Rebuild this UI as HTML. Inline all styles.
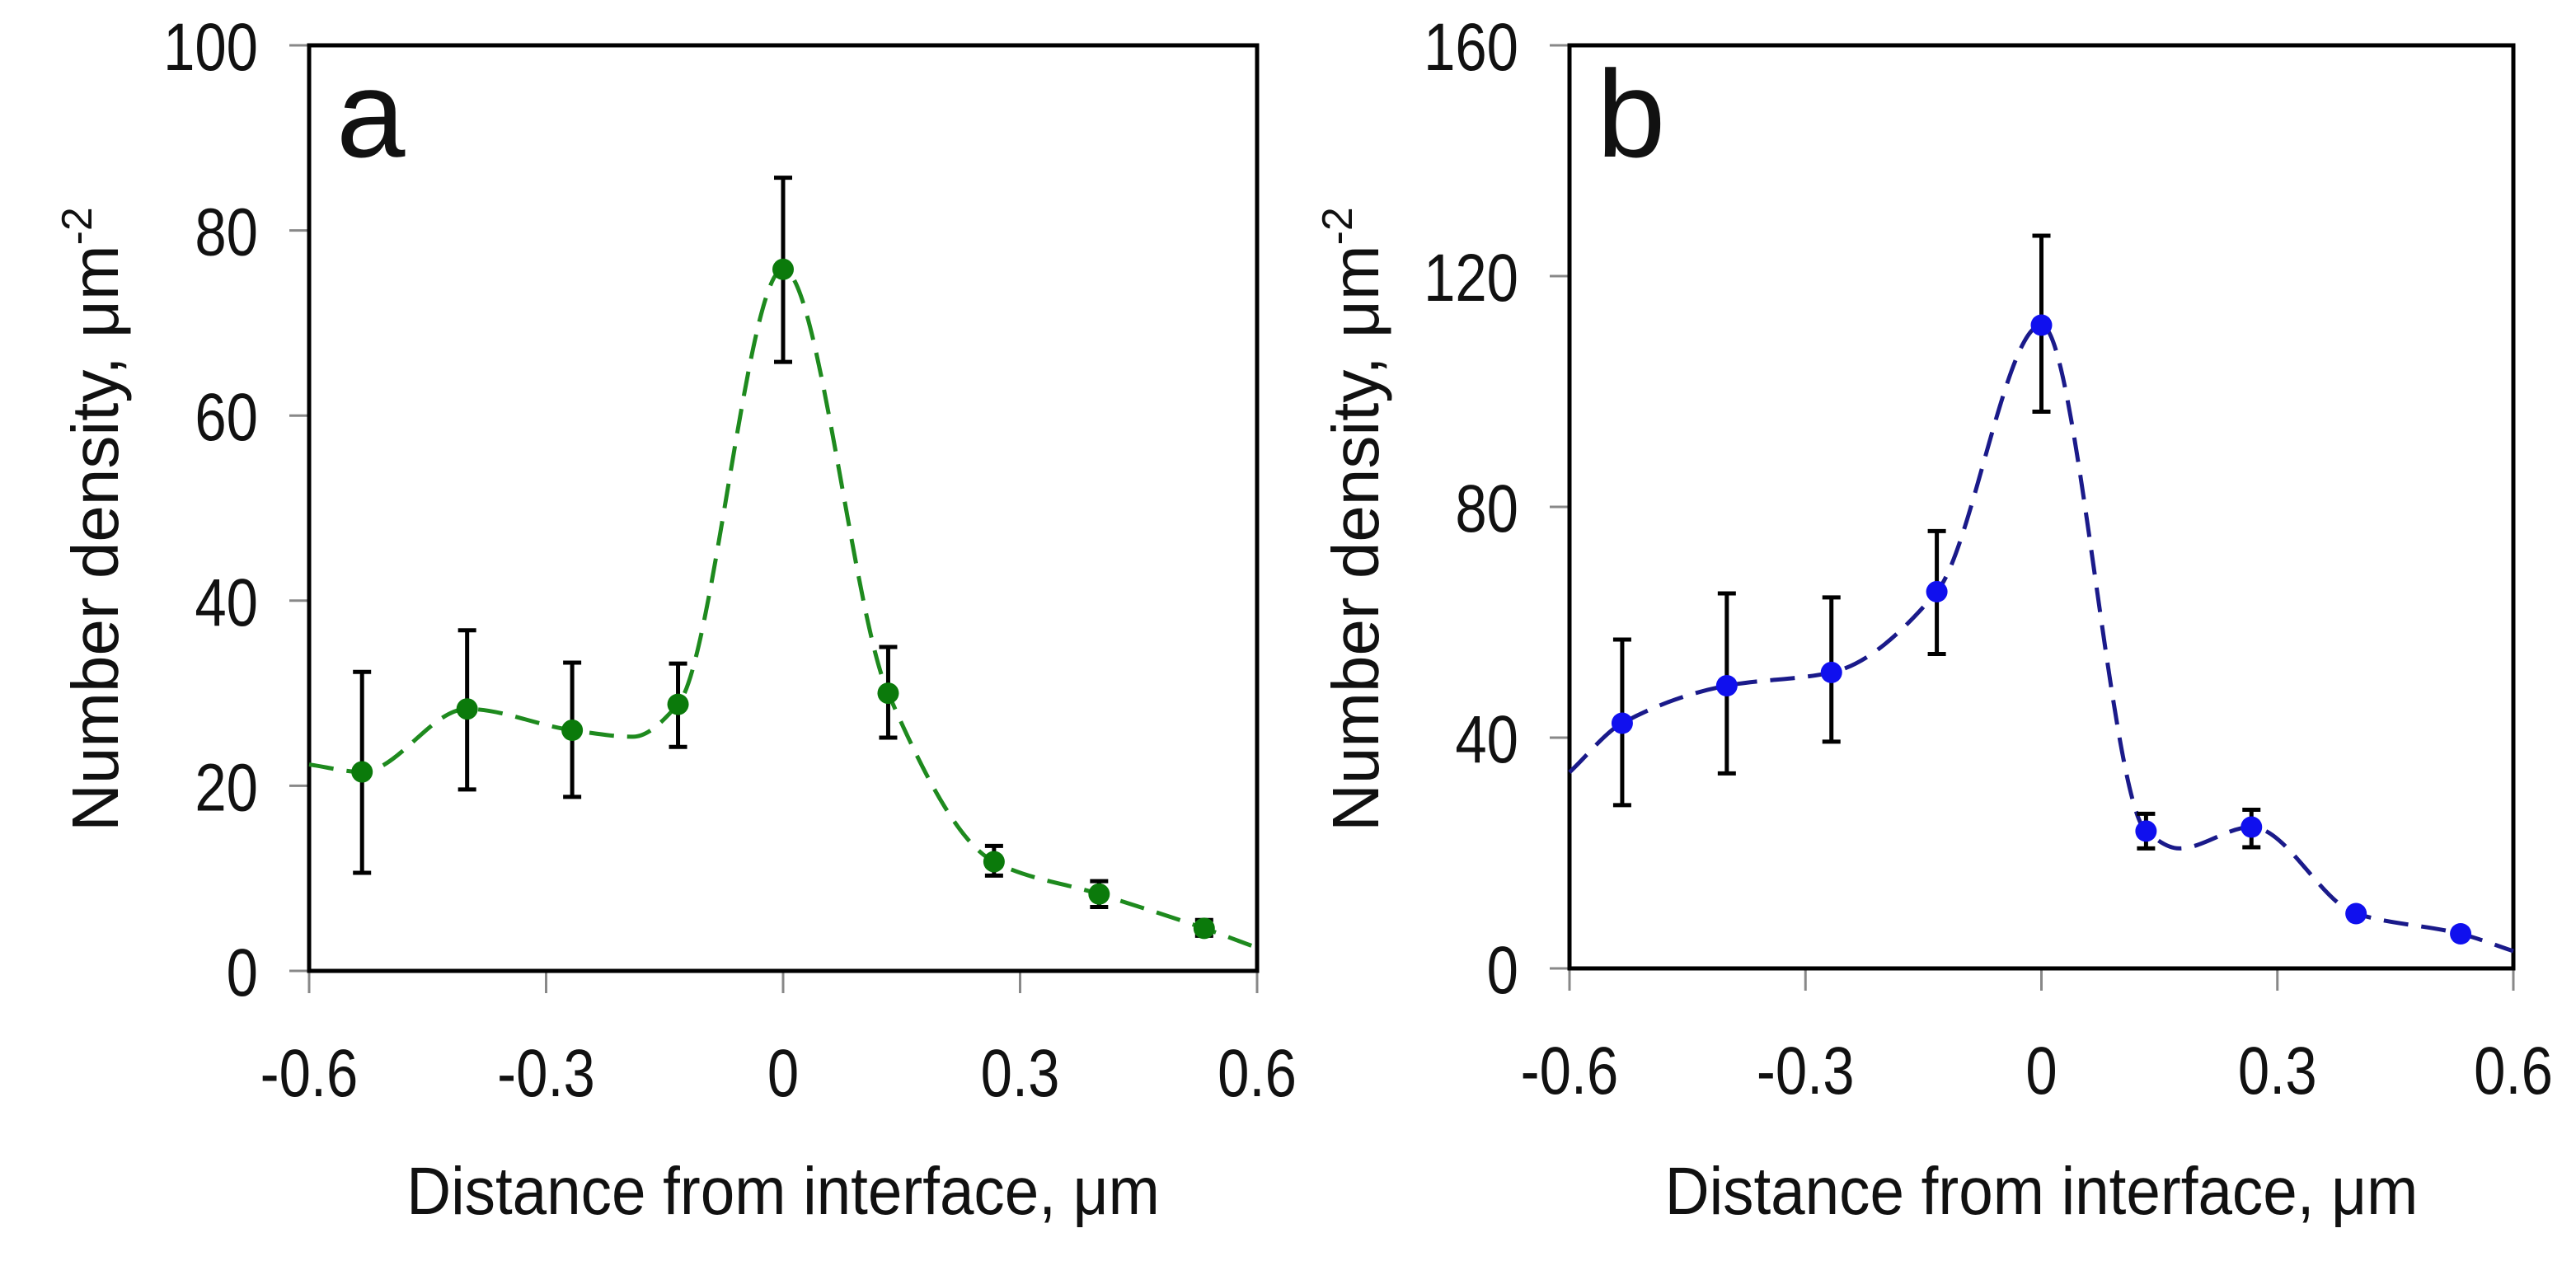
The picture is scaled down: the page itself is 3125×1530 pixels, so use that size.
<!DOCTYPE html>
<html><head><meta charset="utf-8"><style>
body{margin:0;background:#fff;width:3125px;height:1525px;overflow:hidden}
svg text{font-family:"Liberation Sans",sans-serif;fill:#111}
</style></head><body>
<svg id="chart" width="3125" height="1525"></svg>
<script>
const xCats=[-0.533,-0.4,-0.267,-0.133,0,0.133,0.267,0.4,0.533];
const xTicks=[-0.6,-0.3,0,0.3,0.6];
const xTickLabels=["-0.6","-0.3","0","0.3","0.6"];
const aVals=[21.5,28.3,26,28.8,75.8,30,11.8,8.3,4.6];
const aHi=[32.3,36.8,33.3,33.2,85.7,35,13.5,9.7,5.5];
const aLo=[10.6,19.6,18.8,24.2,65.8,25.2,10.3,6.9,3.8];
const aCurveX=[-0.6,-0.533,-0.4,-0.267,-0.19,-0.133,0,0.133,0.267,0.4,0.533,0.6];
const aCurveY=[22.3,21.5,28.3,26,25.3,28.8,75.8,30,11.8,8.3,4.6,2.5];
const aYTicks=[0,20,40,60,80,100];
const bVals=[42.5,49,51.3,65.3,111.5,23.8,24.5,9.5,6];
const bHi=[57,65,64.3,75.8,127,26.8,27.5,null,null];
const bLo=[28.3,33.8,39.3,54.5,96.5,20.8,21,null,null];
const bCurveX=[-0.6,-0.533,-0.4,-0.267,-0.133,0,0.133,0.175,0.267,0.4,0.533,0.6];
const bCurveY=[34,42.5,49,51.3,65.3,111.5,23.8,20.8,24.5,9.5,6,3];
const bYTicks=[0,40,80,120,160];

const NS="http://www.w3.org/2000/svg";
const svg=document.getElementById('chart');
function mk(tag,attrs,parent){const e=document.createElementNS(NS,tag);for(const k in attrs)e.setAttribute(k,attrs[k]);(parent||svg).appendChild(e);return e;}

function monoPath(P){
  const n=P.length,dx=[],s=[],m=[];
  for(let i=0;i<n-1;i++){dx[i]=P[i+1][0]-P[i][0];s[i]=(P[i+1][1]-P[i][1])/dx[i];}
  m[0]=s[0];m[n-1]=s[n-2];
  for(let i=1;i<n-1;i++){
    if(s[i-1]*s[i]<=0)m[i]=0;
    else{const w1=2*dx[i]+dx[i-1],w2=dx[i]+2*dx[i-1];m[i]=(w1+w2)/(w1/s[i-1]+w2/s[i]);}
  }
  let d='M'+P[0][0]+','+P[0][1];
  for(let i=0;i<n-1;i++){
    const h=dx[i]/3;
    d+=` C${P[i][0]+h},${P[i][1]+m[i]*h} ${P[i+1][0]-h},${P[i+1][1]-m[i+1]*h} ${P[i+1][0]},${P[i+1][1]}`;
  }
  return d;
}

function panel(o){
  const g=mk('g',{});
  
  
  const X=v=>o.L+(v+0.6)/1.2*(o.R-o.L);
  const Y=v=>o.B-v/o.ymax*(o.B-o.T);
  o.yt.forEach(v=>{
    const t=mk('line',{x1:o.L-24,x2:o.L,y1:Y(v),y2:Y(v),stroke:'#888','stroke-width':3},g);
    
    
    const tx=mk('text',{x:0,y:0,'text-anchor':'end','font-size':82,transform:`translate(${o.L-62},${Y(v)+30}) scale(0.84,1)`},g);
    tx.textContent=v;
    
    
  });
  xTicks.forEach((v,i)=>{
    const t=mk('line',{x1:X(v),x2:X(v),y1:o.B,y2:o.B+27,stroke:'#888','stroke-width':3},g);
    
    
    const tx=mk('text',{x:0,y:0,'text-anchor':'middle','font-size':82,transform:`translate(${X(v)},${o.B+152}) scale(0.84,1)`},g);
    tx.textContent=xTickLabels[i];
    
    
  });
  const frame=mk('rect',{x:o.L,y:o.T,width:o.R-o.L,height:o.B-o.T,fill:'none',stroke:'#000','stroke-width':5},g);
  
  
  const P=o.cx.map((x,i)=>[X(x),Y(o.cy[i])]);
  const cl=mk('path',{d:monoPath(P),fill:'none',stroke:o.lc,'stroke-width':5,'stroke-dasharray':'30,16'},g);
  
  
  xCats.forEach((x,i)=>{
    if(o.hi[i]!=null){
      const eb=mk('path',{d:`M${X(x)},${Y(o.hi[i])}V${Y(o.lo[i])}M${X(x)-11},${Y(o.hi[i])}h22M${X(x)-11},${Y(o.lo[i])}h22`,stroke:'#000','stroke-width':5,fill:'none'},g);
      
      
    }
    const c=mk('circle',{cx:X(x),cy:Y(o.v[i]),r:13,fill:o.pc},g);
    
    
  });
  const lt=mk('text',{x:o.L+33,y:o.T+135,'font-size':150},g);
  lt.textContent=o.letter;
  
  
  const yl=mk('text',{x:0,y:0,'text-anchor':'middle','font-size':80,transform:`translate(${o.L-232},${630}) rotate(-90)`},g);
  yl.innerHTML='Number density, μm<tspan dy="-32" font-size="52">-2</tspan>';
  
  
  const xl=mk('text',{x:0,y:0,'text-anchor':'middle','font-size':82,transform:`translate(${(o.L+o.R)/2},1473) scale(0.91,1)`},g);
  xl.textContent='Distance from interface, μm';
  
  
}
panel({letter:'a',L:375,R:1525,T:55,B:1178,ymax:100,yt:aYTicks,v:aVals,hi:aHi,lo:aLo,cx:aCurveX,cy:aCurveY,lc:'#1e8a1e',pc:'#0b7a0b'});
panel({letter:'b',L:1904,R:3049,T:55,B:1175,ymax:160,yt:bYTicks,v:bVals,hi:bHi,lo:bLo,cx:bCurveX,cy:bCurveY,lc:'#1a1a8a',pc:'#1010ee'});
</script>
</body></html>
